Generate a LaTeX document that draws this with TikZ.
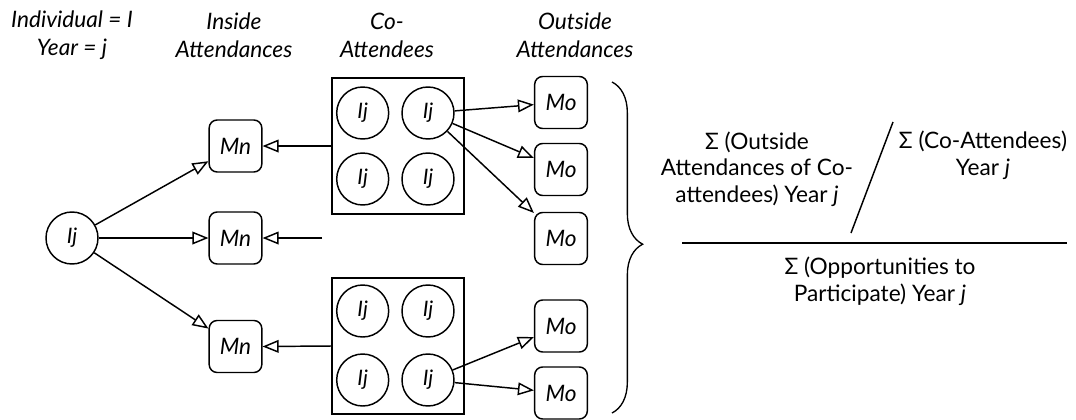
\documentclass[tikz,border=0pt]{standalone}
\usepackage{fontspec}
\setmainfont{Lato}
\usetikzlibrary{arrows.meta,decorations.pathreplacing}
\begin{document}
\begin{tikzpicture}[x=0.75pt,y=-0.75pt,
  every node/.style={inner sep=0pt},
  lw/.style={line width=1.1pt},
  arr/.style={lw,-{Triangle[open,length=12pt,width=9.5pt]}},
  person/.style={draw,lw,circle,minimum size=39pt,font=\fontsize{16}{18}\selectfont\itshape},
  meet/.style={draw,lw,rounded corners=6pt,minimum width=39.5pt,minimum height=39pt,font=\fontsize{17}{18}\selectfont\itshape},
  group/.style={draw,lw,minimum width=99pt,minimum height=102pt},
  head/.style={align=center,font=\fontsize{17}{21}\selectfont\itshape},
  formula/.style={align=center,font=\fontsize{17}{20}\selectfont}
]
\useasboundingbox (0,0) rectangle (1076,419);
% headers
\node[head] (h1) at (72,35) {Individual = I\\Year = j};
\node[head] (h2) at (234,35) {Inside\\Attendances};
\node[head] (h3) at (387,35) {Co-\\Attendees};
\node[head] (h4) at (575,35) {Outside\\Attendances};
% individual
\node[person] (ij) at (72,238) {Ij};
% inside attendances
\node[meet] (mn1) at (235.5,146) {Mn};
\node[meet] (mn2) at (235.5,238) {Mn};
\node[meet] (mn3) at (235.5,346.5) {Mn};
% co-attendee groups
\node[group] (sq1) at (398,146) {};
\node[group] (sq2) at (398,346) {};
\node[person] (a11) at (362.7,113) {Ij};
\node[person] (a12) at (428,113) {Ij};
\node[person] (a13) at (362.7,179) {Ij};
\node[person] (a14) at (428,179) {Ij};
\node[person] (a21) at (362.7,311) {Ij};
\node[person] (a22) at (428,311) {Ij};
\node[person] (a23) at (362.7,380) {Ij};
\node[person] (a24) at (428,380) {Ij};
% outside attendances
\node[meet] (mo1) at (561,102.5) {Mo};
\node[meet] (mo2) at (561,169.5) {Mo};
\node[meet] (mo3) at (561,238.5) {Mo};
\node[meet] (mo4) at (561,326) {Mo};
\node[meet] (mo5) at (561,393) {Mo};
\coordinate (free) at (322,238);
% connectors
\draw[arr] (ij) -- (mn1);
\draw[arr] (ij) -- (mn2);
\draw[arr] (ij) -- (mn3);
\draw[arr] (sq1.west) -- (mn1.east);
\draw[arr] (free) -- (mn2.east);
\draw[arr] (sq2.west) -- (mn3.east);
\draw[arr] (a12) -- (mo1);
\draw[arr] (a12) -- (mo2);
\draw[arr] (a12) -- (mo3);
\draw[arr] (a24) -- (mo4);
\draw[arr] (a24) -- (mo5);
% brace
\coordinate (bt) at (612,82);
\coordinate (bb) at (612,413);
\draw[line width=1pt,decorate,decoration={brace,amplitude=23pt,aspect=0.49}] (bt) -- (bb);
% formula
\node[formula] (num) at (757,169) {Σ (Outside\\Attendances of Co-\\attendees) Year \textit{j}};
\node[formula] (den2) at (983,155) {Σ (Co-Attendees)\\Year \textit{j}};
\node[formula] (den) at (880,281) {Σ (Opportunities to\\Participate) Year \textit{j}};
\coordinate (s1) at (893,122);
\coordinate (s2) at (851,233);
\draw[lw] (s1) -- (s2);
\coordinate (f1) at (682,243);
\coordinate (f2) at (1067,243);
\draw[lw] (f1) -- (f2);
\end{tikzpicture}
\end{document}
